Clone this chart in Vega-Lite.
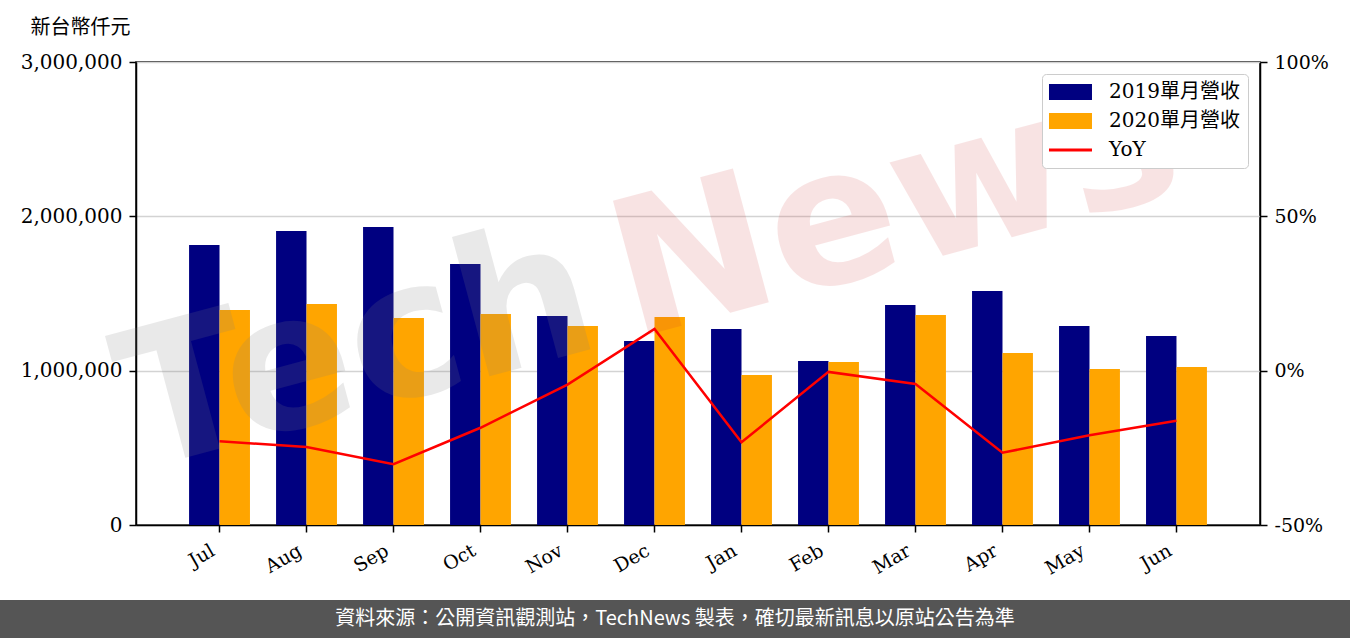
{
  "$schema": "https://vega.github.io/schema/vega-lite/v6.json",
  "width": 1124,
  "height": 463,
  "autosize": "none",
  "padding": {"left": 136, "top": 62, "right": 90, "bottom": 113},
  "background": "white",
  "config": {
    "view": {"stroke": "black", "strokeWidth": 1.5},
    "font": "DejaVu Serif, Noto Sans CJK TC"
  },
  "datasets": {
    "rev": [
      {"m": "Jul", "series": "2019單月營收", "v": 1814000},
      {"m": "Jul", "series": "2020單月營收", "v": 1393000},
      {"m": "Aug", "series": "2019單月營收", "v": 1905000},
      {"m": "Aug", "series": "2020單月營收", "v": 1432000},
      {"m": "Sep", "series": "2019單月營收", "v": 1931000},
      {"m": "Sep", "series": "2020單月營收", "v": 1341000},
      {"m": "Oct", "series": "2019單月營收", "v": 1691000},
      {"m": "Oct", "series": "2020單月營收", "v": 1367000},
      {"m": "Nov", "series": "2019單月營收", "v": 1354000},
      {"m": "Nov", "series": "2020單月營收", "v": 1290000},
      {"m": "Dec", "series": "2019單月營收", "v": 1192000},
      {"m": "Dec", "series": "2020單月營收", "v": 1348000},
      {"m": "Jan", "series": "2019單月營收", "v": 1270000},
      {"m": "Jan", "series": "2020單月營收", "v": 972000},
      {"m": "Feb", "series": "2019單月營收", "v": 1063000},
      {"m": "Feb", "series": "2020單月營收", "v": 1056000},
      {"m": "Mar", "series": "2019單月營收", "v": 1426000},
      {"m": "Mar", "series": "2020單月營收", "v": 1361000},
      {"m": "Apr", "series": "2019單月營收", "v": 1517000},
      {"m": "Apr", "series": "2020單月營收", "v": 1115000},
      {"m": "May", "series": "2019單月營收", "v": 1290000},
      {"m": "May", "series": "2020單月營收", "v": 1011000},
      {"m": "Jun", "series": "2019單月營收", "v": 1225000},
      {"m": "Jun", "series": "2020單月營收", "v": 1024000}
    ],
    "yoy": [
      {"m": "Jul", "s": "YoY", "yoy": -0.229},
      {"m": "Aug", "s": "YoY", "yoy": -0.247},
      {"m": "Sep", "s": "YoY", "yoy": -0.303},
      {"m": "Oct", "s": "YoY", "yoy": -0.185},
      {"m": "Nov", "s": "YoY", "yoy": -0.045},
      {"m": "Dec", "s": "YoY", "yoy": 0.135},
      {"m": "Jan", "s": "YoY", "yoy": -0.232},
      {"m": "Feb", "s": "YoY", "yoy": -0.004},
      {"m": "Mar", "s": "YoY", "yoy": -0.043},
      {"m": "Apr", "s": "YoY", "yoy": -0.266},
      {"m": "May", "s": "YoY", "yoy": -0.209},
      {"m": "Jun", "s": "YoY", "yoy": -0.162}
    ],
    "wm1": [{"t": "Tech"}],
    "wm2": [{"t": "News"}],
    "footer": [
      {"t": "資料來源：公開資訊觀測站，TechNews 製表，確切最新訊息以原站公告為準"}
    ]
  },
  "layer": [
    {
      "data": {"name": "rev"},
      "mark": {"type": "bar"},
      "encoding": {
        "x": {
          "field": "m",
          "type": "nominal",
          "sort": ["Jul", "Aug", "Sep", "Oct", "Nov", "Dec", "Jan", "Feb", "Mar", "Apr", "May", "Jun"],
          "scale": {"paddingInner": 0.3, "paddingOuter": 0.61},
          "axis": {
            "title": null,
            "labelAngle": -30,
            "labelAlign": "right",
            "labelBaseline": "top",
            "labelFontSize": 19,
            "labelFont": "DejaVu Serif",
            "labelColor": "black",
            "labelPadding": 9,
            "labelOffset": -11,
            "domainColor": "black",
            "domainWidth": 1.5,
            "tickColor": "black",
            "tickWidth": 1.5,
            "tickSize": 7,
            "grid": false
          }
        },
        "xOffset": {"field": "series", "type": "nominal", "sort": ["2019單月營收", "2020單月營收"], "scale": {"paddingInner": 0, "paddingOuter": 0}},
        "y": {
          "field": "v",
          "type": "quantitative",
          "scale": {"domain": [0, 3000000], "nice": false},
          "axis": {
            "values": [0, 1000000, 2000000, 3000000],
            "format": ",d",
            "title": "新台幣仟元",
            "titleAngle": 0,
            "titleAlign": "left",
            "titleBaseline": "middle",
            "titleX": -106,
            "titleY": -35,
            "titleFontSize": 20,
            "titleFontWeight": "normal",
            "titleColor": "black",
            "titleFont": "DejaVu Serif, Noto Sans CJK TC",
            "labelFontSize": 20,
            "labelFont": "DejaVu Serif",
            "labelColor": "black",
            "labelPadding": 7,
            "domainColor": "black",
            "domainWidth": 1.5,
            "tickColor": "black",
            "tickWidth": 1.5,
            "tickSize": 7,
            "grid": true,
            "gridColor": "#d3d3d3",
            "gridWidth": 1.5
          }
        },
        "color": {
          "field": "series",
          "type": "nominal",
          "scale": {"domain": ["2019單月營收", "2020單月營收", "YoY"], "range": ["#000080", "#FFA500", "#FF0000"]},
          "legend": {
            "orient": "top-right",
            "offset": 12,
            "title": null,
            "fillColor": "white",
            "strokeColor": "#cccccc",
            "cornerRadius": 4,
            "padding": 8,
            "labelFont": "DejaVu Serif, Noto Sans CJK TC",
            "labelFontSize": 20,
            "labelColor": "black",
            "rowPadding": 9,
            "labelOffset": 39,
            "symbolSize": 1849,
            "symbolOpacity": 1,
            "encode": {
              "symbols": {
                "update": {
                  "shape": {"signal": "datum.value === 'YoY' ? 'M-0.512,0H1.488' : 'M-0.512,-0.37H1.488V0.37H-0.512Z'"},
                  "strokeWidth": {"signal": "datum.value === 'YoY' ? 3 : 0"}
                }
              }
            }
          }
        }
      }
    },
    {
      "data": {"name": "wm1"},
      "mark": {"type": "text", "font": "DejaVu Sans", "fontWeight": "bold", "fontSize": 190, "angle": -15, "align": "left", "baseline": "alphabetic", "fill": "#808080", "opacity": 0.17},
      "encoding": {
        "text": {"field": "t"},
        "x": {"value": 4},
        "y": {"value": 408}
      }
    },
    {
      "data": {"name": "wm2"},
      "mark": {"type": "text", "font": "DejaVu Sans", "fontWeight": "bold", "fontSize": 190, "angle": -15, "align": "left", "baseline": "alphabetic", "fill": "#d03030", "opacity": 0.13},
      "encoding": {
        "text": {"field": "t"},
        "x": {"value": 496},
        "y": {"value": 277}
      }
    },
    {
      "data": {"name": "yoy"},
      "mark": {"type": "line", "strokeWidth": 2.5},
      "encoding": {
        "x": {"field": "m", "type": "nominal", "sort": ["Jul", "Aug", "Sep", "Oct", "Nov", "Dec", "Jan", "Feb", "Mar", "Apr", "May", "Jun"]},
        "y": {
          "field": "yoy",
          "type": "quantitative",
          "scale": {"domain": [-0.5, 1], "nice": false},
          "axis": {
            "orient": "right",
            "values": [-0.5, 0, 0.5, 1],
            "labelExpr": "(datum.value < 0 ? '-' : '') + format(abs(datum.value), '.0%')",
            "title": null,
            "labelFontSize": 19,
            "labelFont": "DejaVu Serif",
            "labelColor": "black",
            "labelPadding": 7,
            "domainColor": "black",
            "domainWidth": 1.5,
            "tickColor": "black",
            "tickWidth": 1.5,
            "tickSize": 7,
            "grid": false
          }
        },
        "color": {"field": "s", "type": "nominal"}
      }
    },
    {
      "data": {"name": "footer"},
      "mark": {"type": "rect", "fill": "#555555", "clip": false},
      "encoding": {
        "x": {"value": -136},
        "x2": {"value": 1214},
        "y": {"value": 538},
        "y2": {"value": 576}
      }
    },
    {
      "data": {"name": "footer"},
      "mark": {"type": "text", "color": "white", "font": "Noto Sans CJK TC", "fontSize": 20, "align": "center", "baseline": "middle"},
      "encoding": {
        "text": {"field": "t"},
        "x": {"value": 539},
        "y": {"value": 557}
      }
    }
  ],
  "resolve": {"scale": {"y": "independent"}}
}
